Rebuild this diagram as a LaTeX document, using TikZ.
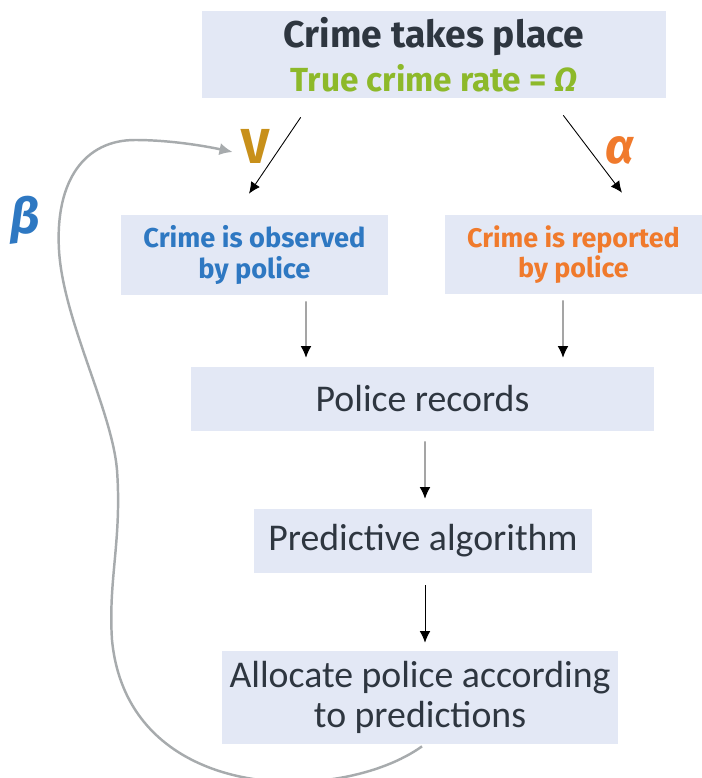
\documentclass[tikz,border=0pt]{standalone}
\usepackage{fontspec}
\setmainfont{Fira Sans}
\newfontfamily\bodyfont{Carlito}
\usetikzlibrary{positioning,calc,arrows.meta}

\definecolor{boxfill}{HTML}{E3E8F5}
\definecolor{textdark}{HTML}{2E3640}
\definecolor{trueg}{HTML}{8DB92A}
\definecolor{obsblue}{HTML}{2E78C2}
\definecolor{reporange}{HTML}{F07A2C}
\definecolor{vgold}{HTML}{C8901A}
\definecolor{fbgrey}{HTML}{A7ABAD}

\tikzset{
  box/.style={fill=boxfill,inner sep=0pt,align=center,text=textdark},
  plain/.style={box,font=\bodyfont\fontsize{21.5}{22.5}\selectfont},
  greek/.style={inner sep=0pt,font=\fontsize{28}{28}\selectfont\bfseries},
  arr/.style={-{Latex[length=6.5pt,width=6pt]},line width=0.5pt,black},
  feedback/.style={-{Latex[length=7.5pt,width=7pt]},line width=1.4pt,fbgrey}
}

\begin{document}
\begin{tikzpicture}[x=0.02cm,y=-0.02cm]
\useasboundingbox (0,0) rectangle (702,778);

%%%%%%%%%%%%%%%%%%%%%% BOXES

\node[box,minimum width=9.28cm,minimum height=1.74cm] (crime) at (434,54.5)
  {{\fontsize{21.2}{22}\selectfont\bfseries Crime takes place}\\[4pt]
   {\fontsize{19}{19}\selectfont\bfseries\color{trueg}True crime rate = \textit{Ω}}};
\node[box,minimum width=5.34cm,minimum height=1.6cm,text=obsblue,font=\fontsize{15.5}{17.5}\selectfont\bfseries] (obs) at (254.5,255) {Crime is observed\\by police};
\node[box,minimum width=5.14cm,minimum height=1.58cm,text=reporange,font=\fontsize{15.3}{17.5}\selectfont\bfseries] (rep) at (573.5,254.5) {Crime is reported\\by police};

\node[plain,minimum width=9.26cm,minimum height=1.28cm] (rec) at (422.5,399) {Police records};
\node[plain,minimum width=6.76cm,minimum height=1.28cm] (alg) at (423,541) {Predictive algorithm};
\node[plain,minimum width=7.92cm,minimum height=1.86cm] (alloc) at (420,697.5) {Allocate police according\\to predictions};

%%%%%%%%%%%%%%%%%%%%%% LABELS

\node[greek,text=vgold] (V) at (256,146) {V};
\node[greek,text=reporange] (alpha) at (620,150) {\textit{α}};
\node[greek,text=obsblue] (beta) at (25,220) {\textit{β}};

%%%%%%%%%%%%%%%%%%%%%% ARROWS

\draw[arr] ($(crime.south west)+(99,19)$) -- ($(obs.north)+(-5.5,-21)$);
\draw[arr] ($(crime.south east)+(-103,17)$) -- ($(rep.north)+(48.5,-22)$);
\draw[arr] ($(obs.south)+(51.5,6)$) -- ($(rec.north)+(-116.5,-9)$);
\draw[arr] ($(rep.south)+(-10.5,6)$) -- ($(rec.north)+(140.5,-9)$);
\draw[arr] ($(rec.south)+(2.5,10)$) -- ($(alg.north)+(2,-10)$);
\draw[arr] ($(alg.south)+(2,12)$) -- ($(alloc.north)+(5,-8)$);

% feedback loop back to V
\draw[feedback] ($(alloc.south)+(2,2)$) .. controls (340,805) and (128,805) .. (112,640)
  .. controls (108,580) and (122,540) .. (117,470)
  .. controls (112,410) and (63,320) .. (59,250)
  .. controls (55,180) and (85,140) .. (135,140)
  .. controls (170,140) and (205,146) .. ($(V.west)+(-9,6)$);

\end{tikzpicture}
\end{document}
